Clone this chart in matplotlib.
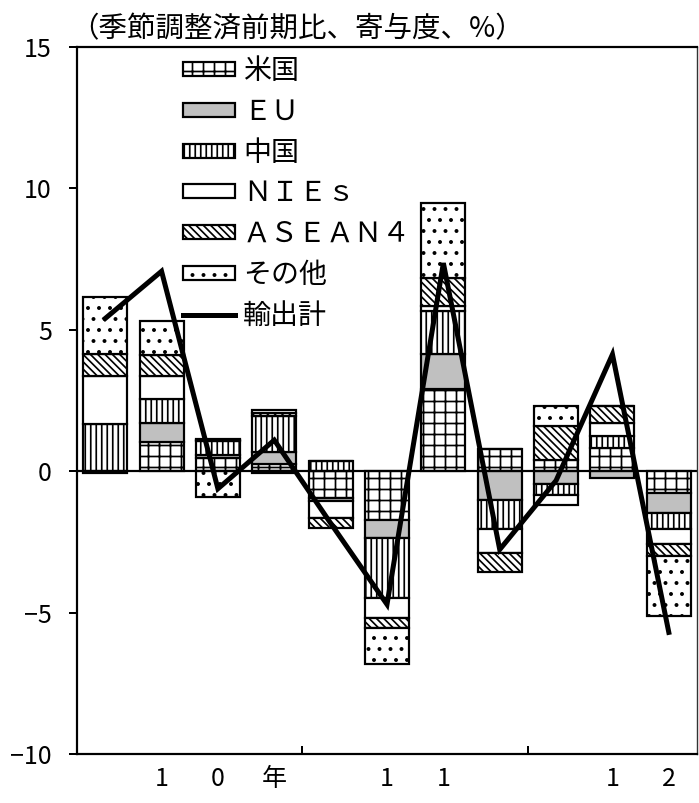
import numpy as np
import matplotlib
matplotlib.use("Agg")
import matplotlib.pyplot as plt

# render at 132 dpi so the hatch spacing matches the original; sizes in pixels
DPI = 132
W, H = 699, 803


def px(p):
    return p * 72.0 / DPI


plt.rcParams['font.family'] = ['Noto Sans CJK JP', 'DejaVu Sans']
plt.rcParams['hatch.linewidth'] = px(1.7)

# quarterly contributions to export growth (%), 11 quarters
xlabels = ["", "1", "0", "年", "", "1", "1", "", "", "1", "2"]
us    = [-0.05, 1.04, 0.45, 0.24, -0.95, -1.74, 2.92, 0.80, 0.41, 0.83, -0.76]
eu    = [0.00, 0.67, 0.12, 0.43, -0.10, -0.61, 1.24, -1.02, -0.47, -0.23, -0.71]
cn    = [1.66, 0.83, 0.50, 1.27, 0.35, -2.12, 1.49, -1.01, -0.38, 0.41, -0.59]
nies  = [1.70, 0.82, 0.05, -0.08, -0.60, -0.71, 0.18, -0.88, -0.33, 0.47, -0.53]
asean = [0.77, 0.74, 0.03, 0.12, -0.35, -0.35, 1.00, -0.66, 1.20, 0.59, -0.41]
other = [2.04, 1.21, -0.90, 0.10, 0.00, -1.30, 2.67, 0.00, 0.69, 0.00, -2.12]
total = [5.4, 7.07, -0.62, 1.1, -1.84, -4.71, 7.36, -2.77, -0.33, 4.13, -5.7]

names = ["米国", "ＥＵ", "中国", "ＮＩＥｓ", "ＡＳＥＡＮ４", "その他"]
series = [us, eu, cn, nies, asean, other]
faces = ["white", "#c0c0c0", "white", "white", "white", "white"]
hatches = ["++", None, "||||", None, "\\" * 6, ".."]

fig = plt.figure(figsize=(W / DPI, H / DPI), dpi=DPI)
ax = fig.add_axes([77 / W, 1 - 754 / H, 620 / W, 707 / H])

x = np.arange(len(total))
pos_bottom = np.zeros(len(x))
neg_bottom = np.zeros(len(x))
handles = []
for vals, name, fc, h in zip(series, names, faces, hatches):
    v = np.array(vals)
    bottom = np.where(v >= 0, pos_bottom, neg_bottom)
    bars = ax.bar(x, v, 0.78, bottom=bottom, color=fc, edgecolor="black",
                  linewidth=px(2.2), hatch=h, label=name, zorder=2)
    handles.append(bars)
    pos_bottom += np.where(v > 0, v, 0)
    neg_bottom += np.where(v < 0, v, 0)

ax.axhline(0, color="black", lw=px(2.2), zorder=2.5)
line, = ax.plot(x, total, color="black", lw=px(5), solid_joinstyle="miter",
                label="輸出計", zorder=3)
handles.append(line)

ax.set_xlim(-0.5, len(x) - 0.5)
ax.set_ylim(-10, 15)
ax.set_yticks([-10, -5, 0, 5, 10, 15])
ax.set_yticklabels(["−10", "−5", "0", "5", "10", "15"])
ax.set_xticks(x)
ax.set_xticklabels(xlabels)
ax.set_xticks([3.5, 7.5], minor=True)
ax.tick_params(axis="x", which="major", length=0, pad=px(12), labelsize=px(25))
ax.tick_params(axis="x", which="minor", direction="in", length=px(8), width=px(2))
ax.tick_params(axis="y", direction="out", length=px(8), width=px(2),
               labelsize=px(25), pad=px(17))

for s in ["left", "bottom", "top"]:
    ax.spines[s].set_linewidth(px(2.2))
ax.spines["right"].set_linewidth(px(1.4))
ax.spines["right"].set_color("#333333")

fig.text(70 / W, 1 - 44 / H, "（季節調整済前期比、寄与度、%）", fontsize=px(28.5),
         ha="left", va="bottom")

leg = ax.legend(handles=handles, loc="upper left",
                bbox_to_anchor=(183 / W, 1 - 56 / H),
                bbox_transform=fig.transFigure, frameon=False, fontsize=px(28),
                handlelength=52 / 28, handleheight=11 / 28,
                labelspacing=10.8 / 28, handletextpad=8 / 28,
                borderpad=0, borderaxespad=0)

fig.savefig("out.png", dpi=DPI)
